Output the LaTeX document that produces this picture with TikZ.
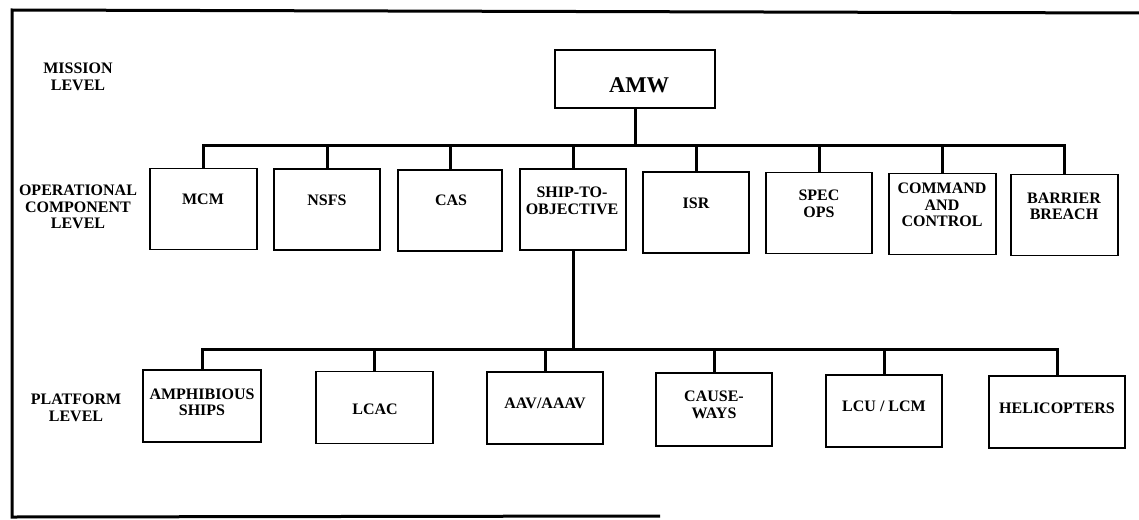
\documentclass[tikz,border=0pt]{standalone}
\usepackage{fontspec}
\setmainfont{Liberation Serif}
\begin{document}
\begin{tikzpicture}[x=1pt,y=-1pt,
  every node/.style={font=\bfseries\fontsize{16}{16.5}\selectfont, align=center, inner sep=0pt},
  box/.style={draw, line width=1.7pt, inner sep=0pt},
  opbox/.style={box, minimum width=106pt, minimum height=81pt},
  plbox/.style={box, minimum width=117pt, minimum height=72pt},
  conn/.style={line width=3pt, line cap=rect, line join=miter},
  frameline/.style={line width=3pt}]
\useasboundingbox (0,0) rectangle (1139,519);
% frame
\coordinate (f1) at (12,517);
\coordinate (f2) at (12,10);
\coordinate (f3) at (1139,13);
\coordinate (f4) at (660,516);
\draw[frameline] (f3) -- (f2) -- (f1) -- (f4);

% level labels
\node (lmis) at (78,77) {MISSION\\LEVEL};
\node (lop) at (78,207) {OPERATIONAL\\COMPONENT\\LEVEL};
\node (lpl) at (76,408) {PLATFORM\\LEVEL};

% mission
\node[box, minimum width=160pt, minimum height=58pt] (amw) at (635,79) {};
\node[font=\bfseries\fontsize{22.5}{24}\selectfont] (amwt) at (639,85) {AMW};

% operational boxes
\node[opbox, minimum width=107pt] (mcm) at (203.5,209) {};
\node[opbox] (nsfs) at (327,209.5) {};
\node[opbox, minimum width=104pt] (cas) at (450,210.5) {};
\node[opbox] (sto) at (573,209.5) {};
\node[opbox] (isr) at (696,212.5) {};
\node[opbox] (spec) at (819,213) {};
\node[opbox, minimum width=107pt] (cmd) at (942.5,214) {};
\node[opbox, minimum width=107pt] (bar) at (1064.5,215) {};

\node (mcmt) at (203,199) {MCM};
\node (nsfst) at (327,200) {NSFS};
\node (cast) at (451,200) {CAS};
\node (stot) at (572,201) {SHIP-TO-\\OBJECTIVE};
\node (isrt) at (696,203) {ISR};
\node (spect) at (819,204) {SPEC\\OPS};
\node (cmdt) at (942,205) {COMMAND\\AND\\CONTROL};
\node (bart) at (1064,206.5) {BARRIER\\BREACH};

% platform boxes
\node[plbox, minimum width=118pt] (amph) at (202,406) {};
\node[plbox] (lcac) at (374.5,407.5) {};
\node[plbox, minimum width=116pt] (aav) at (545,408) {};
\node[plbox, minimum width=116pt, minimum height=73pt] (cause) at (714,409.5) {};
\node[plbox, minimum width=116pt] (lcu) at (884,411) {};
\node[plbox, minimum width=136pt] (heli) at (1057,412) {};

\node (amphti) at (202,402.5) {AMPHIBIOUS\\SHIPS};
\node (lcact) at (375,409) {LCAC};
\node (aavt) at (545,403) {AAV/AAAV};
\node (causet) at (714,405) {CAUSE-\\WAYS};
\node (lcut) at (884,406) {LCU / LCM};
\node (helit) at (1057,408) {HELICOPTERS};

% operational bus
\coordinate (ob) at (0,145);
\draw[conn] (mcm.north) -- (mcm.north |- ob) -- (bar.north |- ob) -- (bar.north);
\draw[conn] (amw.south) -- (amw.south |- ob);
\foreach \n in {nsfs,cas,sto,isr,spec,cmd}
  \draw[conn] (\n.north) -- (\n.north |- ob);

% platform bus
\coordinate (pb) at (0,349);
\draw[conn] (amph.north) -- (amph.north |- pb) -- (heli.north |- pb) -- (heli.north);
\draw[conn] (sto.south) -- (sto.south |- pb);
\foreach \n in {lcac,aav,cause,lcu}
  \draw[conn] (\n.north) -- (\n.north |- pb);
\end{tikzpicture}
\end{document}
